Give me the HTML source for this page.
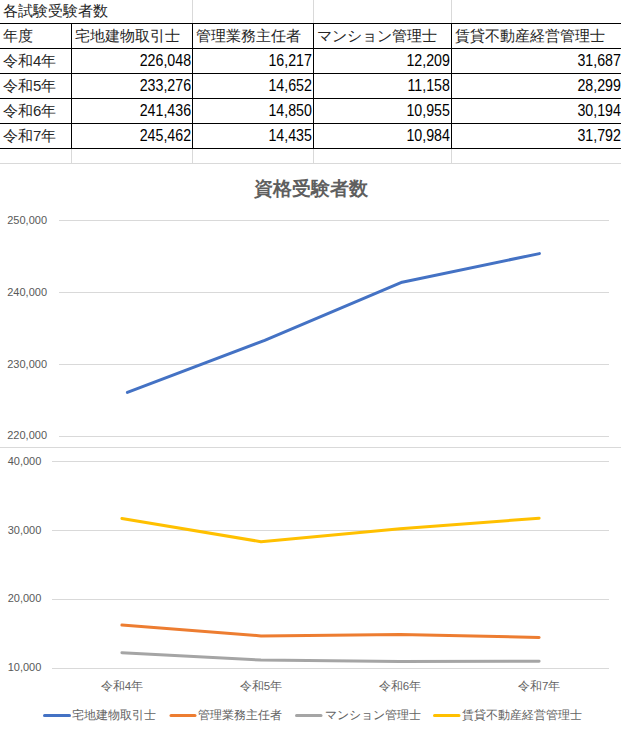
<!DOCTYPE html>
<html><head><meta charset="utf-8">
<style>
html,body{margin:0;padding:0;background:#fff;}
body{width:621px;height:735px;overflow:hidden;position:relative;font-family:"Liberation Sans",sans-serif;}
svg{position:absolute;left:0;top:0;}
.t{font-size:15px;fill:#262626;}
.n{font-size:16px;fill:#000;}
.ax{font-size:11px;fill:#595959;}
.cat{font-size:11.5px;fill:#636363;}
.lg{font-size:12px;fill:#636363;}
.title{font-size:18.5px;font-weight:bold;fill:#5f5f5f;}
</style></head><body>
<svg width="621" height="735" viewBox="0 0 621 735">
<!-- sheet grid (light) -->
<g stroke="#d9d9d9" stroke-width="1" shape-rendering="crispEdges">
<line x1="192.5" y1="0" x2="192.5" y2="23"/>
<line x1="313.5" y1="0" x2="313.5" y2="23"/>
<line x1="451.5" y1="0" x2="451.5" y2="23"/>
<line x1="71.5" y1="148" x2="71.5" y2="163"/>
<line x1="192.5" y1="148" x2="192.5" y2="163"/>
<line x1="313.5" y1="148" x2="313.5" y2="163"/>
<line x1="451.5" y1="148" x2="451.5" y2="163"/>
<line x1="0" y1="163.5" x2="621" y2="163.5"/>
</g>
<!-- table borders -->
<g stroke="#000" stroke-width="1" shape-rendering="crispEdges">
<line x1="0" y1="23.5" x2="621" y2="23.5"/>
<line x1="0" y1="48.5" x2="621" y2="48.5"/>
<line x1="0" y1="73.5" x2="621" y2="73.5"/>
<line x1="0" y1="98.5" x2="621" y2="98.5"/>
<line x1="0" y1="123.5" x2="621" y2="123.5"/>
<line x1="0" y1="148.5" x2="621" y2="148.5"/>
<line x1="71.5" y1="23" x2="71.5" y2="149"/>
<line x1="192.5" y1="23" x2="192.5" y2="149"/>
<line x1="313.5" y1="23" x2="313.5" y2="149"/>
<line x1="451.5" y1="23" x2="451.5" y2="149"/>
</g>
<g class="t">
<text x="3" y="15.5">各試験受験者数</text>
<text x="3" y="40.5">年度</text>
<text x="75" y="40.5">宅地建物取引士</text>
<text x="196" y="40.5">管理業務主任者</text>
<text x="317" y="40.5">マンション管理士</text>
<text x="455" y="40.5">賃貸不動産経営管理士</text>
<text x="3" y="65.5">令和4年</text>
<text x="3" y="90.5">令和5年</text>
<text x="3" y="115.5">令和6年</text>
<text x="3" y="140.5">令和7年</text>
</g>
<g class="n" text-anchor="end" transform="scale(0.89,1)">
<text x="214.72" y="66.2">226,048</text>
<text x="350.45" y="66.2">16,217</text>
<text x="505.51" y="66.2">12,209</text>
<text x="697.64" y="66.2">31,687</text>
<text x="214.72" y="91.2">233,276</text>
<text x="350.45" y="91.2">14,652</text>
<text x="505.51" y="91.2">11,158</text>
<text x="697.64" y="91.2">28,299</text>
<text x="214.72" y="116.2">241,436</text>
<text x="350.45" y="116.2">14,850</text>
<text x="505.51" y="116.2">10,955</text>
<text x="697.64" y="116.2">30,194</text>
<text x="214.72" y="141.2">245,462</text>
<text x="350.45" y="141.2">14,435</text>
<text x="505.51" y="141.2">10,984</text>
<text x="697.64" y="141.2">31,792</text>
</g>
<!-- chart border -->
<line x1="0" y1="447.5" x2="621" y2="447.5" stroke="#d9d9d9" stroke-width="1" shape-rendering="crispEdges"/>
<!-- upper chart -->
<text class="title" x="310.5" y="194.8" text-anchor="middle">資格受験者数</text>
<g stroke="#d9d9d9" stroke-width="1" shape-rendering="crispEdges">
<line x1="58.7" y1="220.5" x2="608.6" y2="220.5"/>
<line x1="58.7" y1="292.5" x2="608.6" y2="292.5"/>
<line x1="58.7" y1="364.5" x2="608.6" y2="364.5"/>
<line x1="58.7" y1="436.5" x2="608.6" y2="436.5"/>
</g>
<g class="ax" text-anchor="end">
<text x="47" y="224">250,000</text>
<text x="47" y="296">240,000</text>
<text x="47" y="368">230,000</text>
<text x="47" y="439">220,000</text>
</g>
<polyline fill="none" stroke="#4472c4" stroke-width="3" stroke-linecap="round" stroke-linejoin="round" points="127.4,392.45 264.7,340.41 402.1,282.2 539.4,253.6"/>
<!-- lower chart -->
<g stroke="#d9d9d9" stroke-width="1" shape-rendering="crispEdges">
<line x1="52.4" y1="461.5" x2="608.6" y2="461.5"/>
<line x1="52.4" y1="530.5" x2="608.6" y2="530.5"/>
<line x1="52.4" y1="599.5" x2="608.6" y2="599.5"/>
<line x1="52.4" y1="668.5" x2="608.6" y2="668.5"/>
</g>
<g class="ax" text-anchor="end">
<text x="41.3" y="465">40,000</text>
<text x="41.3" y="534">30,000</text>
<text x="41.3" y="602.4">20,000</text>
<text x="41.3" y="671">10,000</text>
</g>
<g class="cat" text-anchor="middle">
<text x="121.9" y="689.5">令和4年</text>
<text x="261" y="689.5">令和5年</text>
<text x="400" y="689.5">令和6年</text>
<text x="539.1" y="689.5">令和7年</text>
</g>
<g fill="none" stroke-width="3" stroke-linecap="round" stroke-linejoin="round">
<polyline stroke="#ffc000" points="121.9,518.4 261,541.7 400,528.7 539.1,518.2"/>
<polyline stroke="#ed7d31" points="121.9,625.1 261,635.9 400,634.5 539.1,637.4"/>
<polyline stroke="#a5a5a5" points="121.9,652.8 261,660.0 400,661.4 539.1,661.2"/>
</g>
<!-- legend -->
<g stroke-width="3" stroke-linecap="round">
<line x1="44.5" y1="715.5" x2="69.5" y2="715.5" stroke="#4472c4"/>
<line x1="171" y1="715.5" x2="195" y2="715.5" stroke="#ed7d31"/>
<line x1="296.5" y1="715.5" x2="321" y2="715.5" stroke="#a5a5a5"/>
<line x1="434.5" y1="715.5" x2="459" y2="715.5" stroke="#ffc000"/>
</g>
<g class="lg">
<text x="72" y="718.8">宅地建物取引士</text>
<text x="197.5" y="718.8">管理業務主任者</text>
<text x="324.5" y="718.8">マンション管理士</text>
<text x="461.5" y="718.8">賃貸不動産経営管理士</text>
</g>
</svg>
</body></html>
